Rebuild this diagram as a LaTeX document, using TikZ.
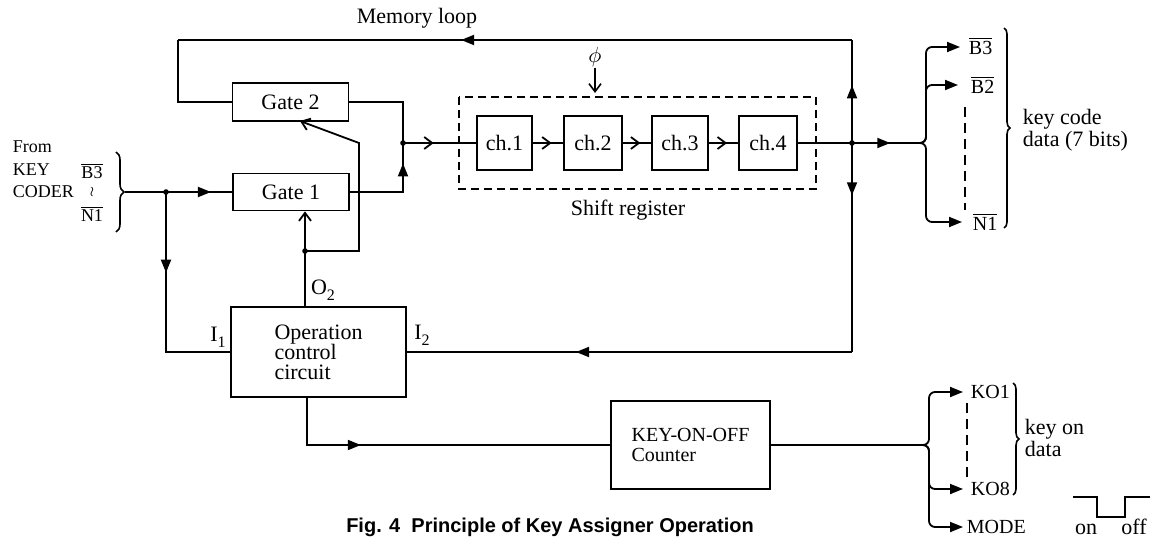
\documentclass[tikz,border=0pt]{standalone}
\usepackage{fontspec}
\setmainfont{Liberation Serif}
\newfontfamily\capfont{Liberation Sans}
\usetikzlibrary{arrows.meta,decorations.markings,decorations.pathreplacing}
\newcommand{\ovl}[1]{$\overline{\mbox{#1}}$}
\newcommand{\fsA}{\fontsize{11}{10}\selectfont}
\newcommand{\fsB}{\fontsize{10}{10}\selectfont}
\newcommand{\fsC}{\fontsize{10}{10}\selectfont}
\newcommand{\fsD}{\fontsize{9}{10}\selectfont}
\begin{document}
\begin{tikzpicture}[x=0.5pt,y=-0.5pt,line width=0.9pt,
  box/.style={draw,line width=0.9pt,inner sep=0pt,align=left,font=\fsA},
  fa/.style={postaction={decorate},decoration={markings,
     mark=at position #1 with {\arrow{Triangle[length=6.5pt,width=5pt]}}}},
  oa/.style={postaction={decorate},decoration={markings,
     mark=at position #1 with {\arrow{Straight Barb[length=4pt,width=6pt]}}}},
  ob/.style={-{Straight Barb[length=4pt,width=6pt]}},
  ft/.style={-{Triangle[length=6.5pt,width=5pt]}},
  dot/.style={circle,fill,inner sep=0pt,minimum size=2.8pt},
  lbl/.style={inner sep=0pt,font=\fsA},
  sml/.style={inner sep=0pt,font=\fsC},
  tin/.style={inner sep=0pt,font=\fsD},
  brc/.style={decorate,decoration={brace,amplitude=#1},line width=0.8pt}
]
\useasboundingbox (0,0) rectangle (1154,540);

% boxes
\node[box,minimum width=58pt,minimum height=19pt] (g2) at (290.5,102) {Gate 2};
\node[box,minimum width=58pt,minimum height=18.5pt] (g1) at (291,192) {Gate 1};
\node[box,minimum width=27.5pt,minimum height=27pt] (ch1) at (504.5,143) {ch.1};
\node[box,minimum width=29pt,minimum height=27pt] (ch2) at (593,143) {ch.2};
\node[box,minimum width=28pt,minimum height=27pt] (ch3) at (680,143) {ch.3};
\node[box,minimum width=29pt,minimum height=27pt] (ch4) at (768,143) {ch.4};
\node[box,minimum width=87.5pt,minimum height=45pt] (op) at (318.5,352) {Operation\\control\\circuit};
\node[box,minimum width=79.5pt,minimum height=44pt,font=\fsB] (cnt) at (690.5,445) {KEY-ON-OFF\\Counter};

\draw[dashed,dash pattern=on 4pt off 2.5pt,line width=0.8pt] (459,97) rectangle (816,189);

% coordinates
\coordinate (in0) at (125,192);
\coordinate (j1) at (166,192);
\coordinate (j2) at (403,143);
\coordinate (j3) at (852,143);
\coordinate (j4) at (305,251);
\coordinate (mtr) at (852,40);
\coordinate (mtl) at (178,40);
\coordinate (mbr) at (852,352);
\coordinate (c2) at (359,143);
\coordinate (g2b) at (300,121);
\coordinate (ob) at (307,397);
\coordinate (f1) at (918,143);
\coordinate (f2) at (920,445);
\coordinate (phiend) at (595,93);

% labels
\node[lbl] at (417,18) {Memory loop};
\node[lbl] (phi) at (595,57) {$\phi$};
\node[lbl] at (628,210) {Shift register};
\node[lbl] at (218,337) {I\raisebox{-0.6ex}{\fontsize{8}{8}\selectfont 1}};
\node[lbl] at (323,290) {O\raisebox{-0.6ex}{\fontsize{8}{8}\selectfont 2}};
\node[lbl] at (422,335) {I\raisebox{-0.6ex}{\fontsize{8}{8}\selectfont 2}};

\node[tin,anchor=base west] at (12,152) {From};
\node[tin,anchor=base west] at (12,175) {KEY};
\node[tin,anchor=base west] at (12,197) {CODER};
\node[tin] at (92,171) {\ovl{B3}};
\node[tin,font=\fontsize{7}{7}\selectfont] at (92,192) {$\wr$};
\node[tin] at (92,214) {\ovl{N1}};
\draw[brc=4pt] (116,152) -- (116,232);

% memory loop
\draw[fa=0.58] (mtr) -- (mtl);
\draw (mtl) |- (g2.west);
\draw[fa=0.56] (j3) -- (mtr);
\draw[fa=0.25] (j3) -- (mbr);
\draw[fa=0.62] (mbr) -- (op.east);

% input
\draw (in0) -- (j1);
\draw[fa=0.68] (j1) -- (g1.west);
\draw[fa=0.36] (j1) |- (op.west);

% gate outputs
\draw (g2.east) -| (j2);
\draw[fa=0.8] (g1.east) -| (j2);
\draw[oa=0.42] (j2) -- (ch1.west);
\draw[oa=0.62] (ch1) -- (ch2);
\draw[oa=0.62] (ch2) -- (ch3);
\draw[oa=0.62] (ch3) -- (ch4);
\draw (ch4) -- (j3);
\draw[fa=0.58] (j3) -- (f1);
\draw[ob,line width=0.8pt] (phi) -- (phiend);

% O2
\draw (op.north -| j4) -- (j4);
\draw[ob] (j4) -- (j4 |- g1.south);
\draw[ob] (j4) -| (c2) -- (g2b);

% counter
\draw[fa=0.29] (ob) |- (cnt.west);
\draw (cnt.east) -- (f2);

% upper fork
\draw[ft,rounded corners=3pt] (f1) -| (926,47) -- (960,47);
\draw[ft,rounded corners=3pt] (f1) -| (926,85) -- (958,85);
\draw[ft,rounded corners=3pt] (f1) -| (926,222) -- (962,222);
\node[sml,anchor=west] at (968,46) {\ovl{B3}};
\node[sml,anchor=west] at (970,85) {\ovl{B2}};
\node[sml,anchor=west] at (972,222) {\ovl{N1}};
\draw[dashed,dash pattern=on 5pt off 3pt,line width=0.8pt] (965,107) -- (965,210);
\draw[brc=3pt] (1004,28) -- (1004,228);
\node[lbl,anchor=west,align=left] at (1022,130) {key code\\data (7 bits)};

% lower fork
\draw[ft,rounded corners=3pt] (f2) -| (929,392) -- (963,392);
\draw[ft,rounded corners=3pt] (f2) -| (929,489) -- (963,489);
\draw[ft,rounded corners=3pt] (f2) -| (929,527) -- (963,527);
\node[sml,anchor=west] at (970,392) {KO1};
\node[sml,anchor=west] at (970,489) {KO8};
\node[sml,anchor=west] at (966,527) {MODE};
\draw[dashed,dash pattern=on 5pt off 3pt,line width=0.8pt] (967,403) -- (967,480);
\draw[brc=3pt] (1013,383) -- (1013,495);
\node[lbl,anchor=west,align=left] at (1024,438) {key on\\data};

% waveform
\draw[line width=0.8pt] (1073,497) -- (1097,497) -- (1097,517) -- (1125,517) -- (1125,497) -- (1150,497);
\node[lbl,anchor=base] at (1086,534) {on};
\node[lbl,anchor=base] at (1134,534) {off};

% dots
\foreach \p in {j1,j2,j3,j4} \node[dot] at (\p) {};

% caption
\node[inner sep=0pt,font=\capfont\bfseries\fontsize{10}{12}\selectfont] at (550,527) {Fig. 4\ \ Principle of Key Assigner Operation};
\end{tikzpicture}
\end{document}
